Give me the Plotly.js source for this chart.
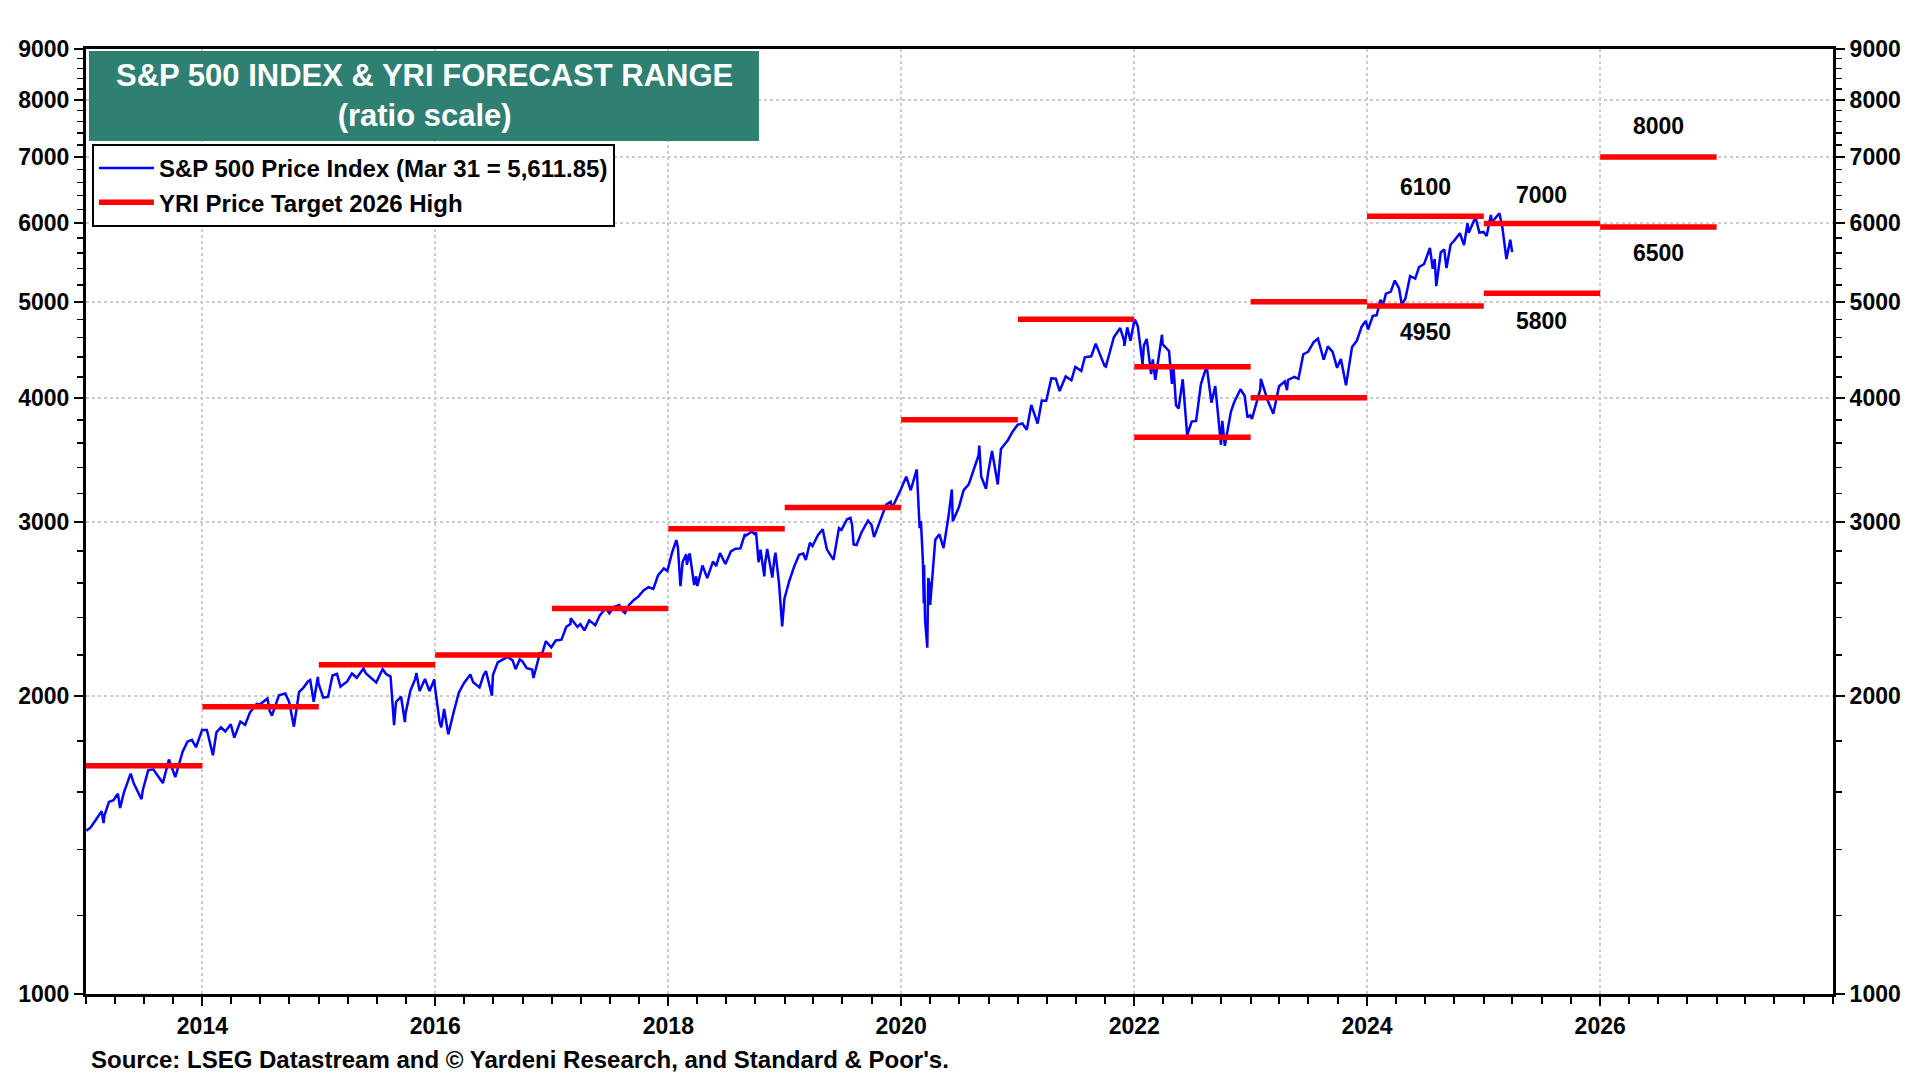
<!DOCTYPE html>
<html>
<head>
<meta charset="utf-8">
<script src="https://cdn.plot.ly/plotly-3.0.1.min.js"></script>
<style>
  html, body { margin: 0; padding: 0; background: #ffffff; }
  #chart { width: 1920px; height: 1080px; }
</style>
</head>
<body>
<div id="chart"></div>
<script>
// S&P 500 price index (date, level)
const spPrice = [
  ["2013-01-02",1462],["2013-01-15",1472],["2013-01-31",1498],["2013-02-19",1530],["2013-02-25",1488],["2013-02-28",1515],
  ["2013-03-14",1563],["2013-03-28",1569],["2013-04-11",1593],["2013-04-18",1541],["2013-04-30",1598],["2013-05-21",1669],
  ["2013-05-31",1631],["2013-06-24",1573],["2013-06-28",1606],["2013-07-15",1682],["2013-07-31",1686],["2013-08-15",1661],
  ["2013-08-30",1633],["2013-09-18",1725],["2013-09-30",1682],["2013-10-08",1656],["2013-10-31",1757],["2013-11-15",1798],
  ["2013-11-29",1806],["2013-12-12",1775],["2013-12-31",1848],
  ["2014-01-15",1848],["2014-02-03",1742],["2014-02-14",1838],["2014-02-28",1859],["2014-03-14",1841],["2014-03-31",1872],
  ["2014-04-11",1815],["2014-04-30",1884],["2014-05-15",1870],["2014-05-30",1924],["2014-06-20",1963],["2014-06-30",1960],
  ["2014-07-24",1988],["2014-07-31",1931],["2014-08-07",1910],["2014-08-29",2003],["2014-09-18",2011],["2014-09-30",1972],
  ["2014-10-15",1862],["2014-10-31",2018],["2014-11-14",2039],["2014-11-28",2068],["2014-12-05",2075],["2014-12-16",1973],
  ["2014-12-29",2090],["2014-12-31",2059],
  ["2015-01-15",1992],["2015-01-30",1995],["2015-02-13",2097],["2015-02-27",2105],["2015-03-10",2044],["2015-03-31",2068],
  ["2015-04-15",2107],["2015-04-30",2086],["2015-05-21",2131],["2015-05-29",2107],["2015-06-15",2085],["2015-06-30",2063],
  ["2015-07-20",2128],["2015-07-31",2104],["2015-08-14",2092],["2015-08-25",1868],["2015-08-31",1972],["2015-09-16",1996],
  ["2015-09-28",1882],["2015-09-30",1920],["2015-10-15",2024],["2015-10-30",2079],["2015-11-03",2109],["2015-11-13",2023],
  ["2015-11-30",2080],["2015-12-14",2022],["2015-12-29",2078],["2015-12-31",2044],
  ["2016-01-15",1880],["2016-01-20",1859],["2016-01-29",1940],["2016-02-11",1829],["2016-02-29",1932],["2016-03-15",2015],
  ["2016-03-31",2060],["2016-04-20",2102],["2016-04-29",2065],["2016-05-19",2040],["2016-05-31",2097],["2016-06-08",2119],
  ["2016-06-27",2001],["2016-06-30",2099],["2016-07-15",2162],["2016-07-29",2174],["2016-08-15",2190],["2016-08-31",2171],
  ["2016-09-09",2128],["2016-09-22",2177],["2016-09-30",2168],["2016-10-14",2133],["2016-10-31",2126],["2016-11-04",2085],
  ["2016-11-25",2213],["2016-11-30",2199],["2016-12-13",2271],["2016-12-30",2239],
  ["2017-01-13",2275],["2017-01-31",2279],["2017-02-15",2349],["2017-02-28",2364],["2017-03-01",2396],["2017-03-22",2348],
  ["2017-03-31",2363],["2017-04-13",2329],["2017-04-28",2384],["2017-05-17",2357],["2017-05-31",2412],["2017-06-19",2453],
  ["2017-06-30",2423],["2017-07-14",2459],["2017-07-31",2470],["2017-08-10",2438],["2017-08-18",2425],["2017-08-31",2472],
  ["2017-09-15",2500],["2017-09-29",2519],["2017-10-16",2557],["2017-10-31",2575],["2017-11-15",2565],["2017-11-30",2648],
  ["2017-12-18",2690],["2017-12-29",2674],
  ["2018-01-12",2786],["2018-01-26",2873],["2018-01-31",2824],["2018-02-08",2581],["2018-02-15",2731],["2018-02-26",2780],
  ["2018-02-28",2714],["2018-03-09",2786],["2018-03-23",2588],["2018-03-29",2641],["2018-04-02",2582],["2018-04-18",2708],
  ["2018-04-30",2648],["2018-05-03",2630],["2018-05-21",2733],["2018-05-31",2705],["2018-06-12",2787],["2018-06-29",2718],
  ["2018-07-16",2798],["2018-07-31",2816],["2018-08-15",2818],["2018-08-29",2914],["2018-08-31",2902],["2018-09-20",2931],
  ["2018-09-28",2914],["2018-10-03",2925],["2018-10-11",2729],["2018-10-17",2809],["2018-10-29",2641],["2018-10-31",2712],
  ["2018-11-07",2814],["2018-11-23",2633],["2018-11-30",2760],["2018-12-03",2790],["2018-12-14",2600],["2018-12-24",2351],
  ["2018-12-31",2507],
  ["2019-01-15",2611],["2019-01-31",2704],["2019-02-15",2776],["2019-02-28",2784],["2019-03-08",2743],["2019-03-21",2855],
  ["2019-03-29",2834],["2019-04-15",2906],["2019-04-30",2946],["2019-05-13",2812],["2019-05-31",2752],["2019-06-03",2744],
  ["2019-06-20",2954],["2019-06-28",2942],["2019-07-15",3014],["2019-07-26",3026],["2019-07-31",2980],["2019-08-05",2844],
  ["2019-08-14",2840],["2019-08-30",2926],["2019-09-19",3006],["2019-09-30",2977],["2019-10-08",2893],["2019-10-31",3038],
  ["2019-11-15",3120],["2019-11-29",3141],["2019-12-03",3093],["2019-12-31",3231],
  ["2020-01-17",3330],["2020-01-31",3226],["2020-02-19",3386],["2020-02-28",2954],["2020-03-03",3003],["2020-03-09",2747],
  ["2020-03-12",2481],["2020-03-13",2711],["2020-03-16",2386],["2020-03-23",2237],["2020-03-26",2630],["2020-03-31",2585],
  ["2020-04-01",2471],["2020-04-17",2875],["2020-04-30",2912],["2020-05-13",2820],["2020-05-29",3044],["2020-06-08",3232],
  ["2020-06-11",3002],["2020-06-30",3100],["2020-07-15",3227],["2020-07-31",3271],["2020-08-14",3373],["2020-08-31",3500],
  ["2020-09-02",3580],["2020-09-08",3332],["2020-09-23",3237],["2020-09-30",3363],["2020-10-12",3534],["2020-10-30",3270],
  ["2020-11-09",3550],["2020-11-30",3622],["2020-12-15",3694],["2020-12-31",3756],
  ["2021-01-15",3768],["2021-01-29",3714],["2021-02-12",3934],["2021-02-26",3811],["2021-03-04",3768],["2021-03-17",3974],
  ["2021-03-31",3973],["2021-04-16",4185],["2021-04-30",4181],["2021-05-12",4063],["2021-05-31",4204],["2021-06-18",4166],
  ["2021-06-30",4298],["2021-07-19",4258],["2021-07-30",4395],["2021-08-19",4405],["2021-08-31",4523],["2021-09-02",4537],
  ["2021-09-30",4308],["2021-10-04",4300],["2021-10-29",4605],["2021-11-18",4704],["2021-11-30",4567],["2021-12-01",4513],
  ["2021-12-10",4712],["2021-12-20",4568],["2021-12-31",4766],
  ["2022-01-03",4797],["2022-01-12",4726],["2022-01-27",4326],["2022-01-31",4516],["2022-02-09",4587],["2022-02-23",4226],
  ["2022-02-28",4374],["2022-03-08",4170],["2022-03-29",4631],["2022-03-31",4530],["2022-04-20",4459],["2022-04-29",4132],
  ["2022-05-04",4300],["2022-05-12",3930],["2022-05-20",3901],["2022-05-31",4132],["2022-06-02",4176],["2022-06-16",3667],
  ["2022-06-30",3785],["2022-07-14",3790],["2022-07-29",4130],["2022-08-16",4305],["2022-08-31",3955],["2022-09-12",4110],
  ["2022-09-30",3586],["2022-10-04",3791],["2022-10-12",3577],["2022-10-31",3872],["2022-11-10",3956],["2022-11-30",4080],
  ["2022-12-13",4019],["2022-12-22",3822],["2022-12-30",3840],
  ["2023-01-05",3808],["2023-01-18",3929],["2023-01-31",4077],["2023-02-02",4179],["2023-02-24",3970],["2023-03-13",3855],
  ["2023-03-31",4109],["2023-04-18",4154],["2023-04-25",4071],["2023-04-28",4169],["2023-05-18",4198],["2023-05-31",4180],
  ["2023-06-15",4426],["2023-06-30",4450],["2023-07-18",4555],["2023-07-31",4589],["2023-08-18",4370],["2023-08-31",4508],
  ["2023-09-15",4450],["2023-09-29",4288],["2023-10-11",4377],["2023-10-27",4117],["2023-10-31",4194],["2023-11-15",4502],
  ["2023-11-30",4568],["2023-12-15",4719],["2023-12-28",4783],["2023-12-29",4770],
  ["2024-01-04",4688],["2024-01-19",4840],["2024-01-31",4846],["2024-02-12",5022],["2024-02-21",4976],["2024-02-29",5096],
  ["2024-03-15",5117],["2024-03-28",5254],["2024-04-10",5161],["2024-04-19",4967],["2024-04-30",5036],["2024-05-15",5308],
  ["2024-05-31",5278],["2024-06-12",5421],["2024-06-28",5460],["2024-07-16",5667],["2024-07-25",5399],["2024-07-31",5522],
  ["2024-08-05",5186],["2024-08-19",5608],["2024-08-30",5648],["2024-09-06",5408],["2024-09-19",5713],["2024-09-30",5762],
  ["2024-10-18",5864],["2024-10-31",5705],["2024-11-11",6001],["2024-11-15",5870],["2024-11-29",6032],["2024-12-06",6090],
  ["2024-12-18",5872],["2024-12-31",5882],
  ["2025-01-10",5827],["2025-01-23",6119],["2025-01-27",6012],["2025-01-31",6041],["2025-02-19",6144],["2025-02-28",5955],
  ["2025-03-10",5615],["2025-03-13",5522],["2025-03-25",5777],["2025-03-31",5612]
];

// YRI year-end targets (one bar per calendar year)
const targetYears = [2013, 2014, 2015, 2016, 2017, 2018, 2019, 2020, 2021, 2022, 2023, 2024, 2025, 2026];
const targetHigh = [1700, 1950, 2150, 2200, 2450, 2950, 3100, 3800, 4800, 4300, 5000, 6100, 6000, 7000];
const rangeYears = [2022, 2023, 2024, 2025, 2026];
const targetLow = [3650, 4000, 4950, 5100, 5950];

const labelYears = [2024, 2024, 2025, 2025, 2026, 2026];
const labelTexts = ["6100", "4950", "7000", "5800", "8000", "6500"];

const yTickVals = [1000, 2000, 3000, 4000, 5000, 6000, 7000, 8000, 9000];
const xTickYears = [2014, 2016, 2018, 2020, 2022, 2024, 2026];

const FONT = "Liberation Sans, Arial, Helvetica, sans-serif";

function yearSegments(years, values) {
  const xs = [];
  const ys = [];
  years.forEach((yr, i) => {
    xs.push(`${yr}-01-01`, `${yr + 1}-01-01`, null);
    ys.push(values[i], values[i], null);
  });
  return { xs, ys };
}

function buildTraces() {
  const hi = yearSegments(targetYears, targetHigh);
  const lo = yearSegments(rangeYears, targetLow);
  return [
    {
      type: "scatter",
      mode: "lines",
      name: "S&P 500 Price Index (Mar 31 = 5,611.85)",
      x: spPrice.map((p) => p[0]),
      y: spPrice.map((p) => p[1]),
      line: { color: "#0000ff", width: 2.5 },
      xaxis: "x",
      yaxis: "y",
      hoverinfo: "x+y",
    },
    {
      type: "scatter",
      mode: "lines",
      name: "YRI Price Target 2026 High",
      x: hi.xs.concat(lo.xs),
      y: hi.ys.concat(lo.ys),
      line: { color: "#ff0000", width: 5.5 },
      connectgaps: false,
      xaxis: "x",
      yaxis: "y2",
      hoverinfo: "x+y",
    },
  ];
}

function yAxisBase() {
  const minor = [];
  for (let v = 1200; v < 9000; v += 200) {
    if (v % 1000 !== 0) minor.push(v);
  }
  return {
    type: "log",
    range: [3, Math.log10(9000)],
    tickmode: "array",
    tickvals: yTickVals,
    ticktext: yTickVals.map(String),
    ticks: "outside",
    ticklen: 9,
    tickwidth: 2,
    tickcolor: "#000000",
    tickfont: { family: FONT, size: 23, color: "#000000", weight: "bold" },
    showline: true,
    linewidth: 3,
    linecolor: "#000000",
    zeroline: false,
    minor: {
      tickmode: "array",
      tickvals: minor,
      ticks: "outside",
      ticklen: 6,
      tickwidth: 1.5,
      tickcolor: "#000000",
      showgrid: false,
    },
  };
}

function buildLayout() {
  const yaxis = Object.assign(yAxisBase(), {
    mirror: true,
    showgrid: true,
    gridcolor: "#cccccc",
    gridwidth: 2,
    griddash: "dot",
  });
  const yaxis2 = Object.assign(yAxisBase(), {
    overlaying: "y",
    side: "right",
    anchor: "x",
    showgrid: false,
  });

  const labelLogY = [3.8152, 3.6687, 3.8071, 3.6798, 3.8768, 3.7485];
  const labels = labelTexts.map((t, i) => ({
    xref: "x",
    yref: "y",
    x: `${labelYears[i]}-07-02`,
    y: labelLogY[i],
    text: t,
    showarrow: false,
    font: { family: FONT, size: 23, color: "#000000", weight: "bold" },
  }));

  return {
    width: 1920,
    height: 1080,
    paper_bgcolor: "#ffffff",
    plot_bgcolor: "#ffffff",
    margin: { l: 86, r: 87, t: 49, b: 86 },
    showlegend: true,
    legend: {
      x: 0.0034,
      y: 0.8995,
      xanchor: "left",
      yanchor: "top",
      bgcolor: "#ffffff",
      bordercolor: "#000000",
      borderwidth: 2,
      font: { family: FONT, size: 24, color: "#000000", weight: "bold" },
      tracegroupgap: 0,
      itemwidth: 55,
    },
    xaxis: {
      type: "date",
      range: ["2013-01-01", "2028-01-01"],
      tickmode: "array",
      tickvals: xTickYears.map((y) => `${y}-01-01`),
      ticktext: xTickYears.map(String),
      ticks: "outside",
      ticklen: 9,
      tickwidth: 2,
      tickcolor: "#000000",
      tickfont: { family: FONT, size: 23, color: "#000000", weight: "bold" },
      showline: true,
      mirror: true,
      linewidth: 3,
      linecolor: "#000000",
      showgrid: true,
      gridcolor: "#cccccc",
      gridwidth: 2,
      griddash: "dot",
      zeroline: false,
      minor: {
        tickmode: "linear",
        tick0: "2013-01-01",
        dtick: "M3",
        ticks: "outside",
        ticklen: 7,
        tickwidth: 2,
        tickcolor: "#000000",
        showgrid: false,
      },
    },
    yaxis: yaxis,
    yaxis2: yaxis2,
    shapes: [
      {
        type: "rect",
        xref: "paper",
        yref: "paper",
        x0: 0.0017,
        x1: 0.3852,
        y0: 0.9026,
        y1: 0.998,
        fillcolor: "#2f7f73",
        line: { width: 0 },
        layer: "above",
      },
    ],
    annotations: [
      {
        xref: "paper",
        yref: "paper",
        x: 0.1935,
        y: 0.9503,
        xanchor: "center",
        yanchor: "middle",
        text: "S&P 500 INDEX & YRI FORECAST RANGE<br>(ratio scale)",
        showarrow: false,
        font: { family: FONT, size: 31, color: "#ffffff", weight: "bold" },
      },
      {
        xref: "paper",
        yref: "paper",
        x: 0.0017,
        y: -0.0688,
        xanchor: "left",
        yanchor: "middle",
        text: "Source: LSEG Datastream and © Yardeni Research, and Standard & Poor's.",
        showarrow: false,
        font: { family: FONT, size: 24, color: "#000000", weight: "bold" },
      },
    ].concat(labels),
  };
}

Plotly.newPlot("chart", buildTraces(), buildLayout(), { staticPlot: true, displayModeBar: false });
</script>
</body>
</html>
